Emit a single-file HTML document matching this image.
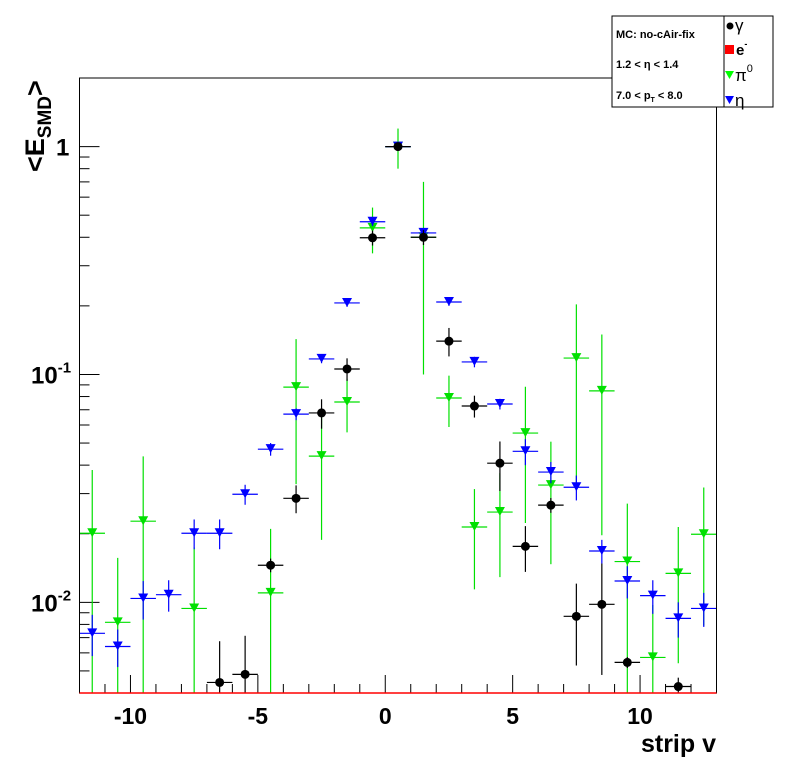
<!DOCTYPE html>
<html><head><meta charset="utf-8">
<style>
body{margin:0;background:#fff;}
svg{display:block;font-family:"Liberation Sans",Arial,sans-serif;}
</style></head>
<body>
<svg id="chart" width="796" height="772" viewBox="0 0 796 772" xmlns="http://www.w3.org/2000/svg">
  <rect x="0" y="0" width="796" height="772" fill="#fff"/>
  <g id="axes"></g>
  <g id="marks"></g>
  <rect x="79.5" y="78" width="637" height="615" fill="none" stroke="#000" stroke-width="1"/>
  <line x1="79.5" y1="693" x2="716.5" y2="693" stroke="#f00" stroke-width="1.5"/>
  <text transform="translate(44,172) rotate(-90)" font-size="27" font-weight="bold">&lt;E<tspan font-size="19" dy="7">SMD</tspan><tspan dy="-7">&gt;</tspan></text>
  <text x="716" y="752" text-anchor="end" font-size="25" font-weight="bold">strip v</text>
  <g>
    <rect x="612" y="16" width="161" height="91" fill="#fff" stroke="#000" stroke-width="1"/>
    <line x1="724" y1="16" x2="724" y2="107" stroke="#000"/>
    <text x="616" y="38" font-size="11" font-weight="bold">MC: no-cAir-fix</text>
    <text x="616" y="68" font-size="11" font-weight="bold">1.2 &lt; η &lt; 1.4</text>
    <text x="616" y="99" font-size="11" font-weight="bold">7.0 &lt; p<tspan font-size="7" dy="3">T</tspan><tspan dy="-3"> &lt; 8.0</tspan></text>
    <circle cx="730" cy="26" r="3.5" fill="#000"/>
    <text x="735" y="31" font-size="17">γ</text>
    <rect x="725" y="45" width="9" height="9" fill="#f00"/>
    <text x="736" y="55" font-size="15" font-weight="bold">e<tspan font-size="9" dy="-8">-</tspan></text>
    <polygon points="725,71 734,71 729.5,79" fill="#0f0"/>
    <text x="735" y="81" font-size="17">π<tspan font-size="11" dy="-9">0</tspan></text>
    <polygon points="725,96 734,96 729.5,104" fill="#00f"/>
    <text x="735" y="106" font-size="17">η</text>
  </g>
</svg>
<script>
const binCenters = [-11.5,-10.5,-9.5,-8.5,-7.5,-6.5,-5.5,-4.5,-3.5,-2.5,-1.5,-0.5,0.5,1.5,2.5,3.5,4.5,5.5,6.5,7.5,8.5,9.5,10.5,11.5,12.5];
const gammaVals = [0,0,0,0,0,0.00445,0.00483,0.01455,0.0286,0.0678,0.1057,0.398,1.0,0.40,0.14,0.0727,0.0408,0.0176,0.0267,0.00868,0.0098,0.00545,0,0.00427,0];
const gammaErrs = [0,0,0,0,0,0.0023,0.0023,0.001,0.004,0.01,0.012,0.03,0.03,0.03,0.02,0.008,0.01,0.004,0.002,0.0034,0.005,0.0003,0,0.0004,0];
const pi0Vals = [0.0201,0.00817,0.0227,0,0.0094,0,0,0.011,0.088,0.0438,0.0757,0.44,1.0,0.40,0.0788,0.0214,0.0249,0.0553,0.0327,0.118,0.0847,0.0151,0.00573,0.0134,0.0199];
const pi0Errs = [0.018,0.0075,0.021,0,0.008,0,0,0.01,0.055,0.025,0.02,0.1,0.2,0.3,0.02,0.01,0.012,0.033,0.018,0.085,0.065,0.012,0.004,0.008,0.012];
const etaVals = [0.00731,0.0064,0.0104,0.0108,0.0201,0.0201,0.0298,0.047,0.067,0.117,0.206,0.468,1.0,0.418,0.208,0.1135,0.0742,0.046,0.0373,0.032,0.0168,0.0124,0.0107,0.0085,0.0094];
const etaErrs = [0.0015,0.0012,0.002,0.0017,0.003,0.003,0.003,0.003,0.004,0.005,0.008,0.02,0.03,0.02,0.008,0.006,0.004,0.006,0.004,0.004,0.002,0.002,0.0018,0.0015,0.0016];
const xTickLabels = ["-10","-5","0","5","10"];
const xTickVals = [-10,-5,0,5,10];

const NS="http://www.w3.org/2000/svg";
const X0=79.5,X1=716.5,Y0=693,Y1=78,XMIN=-12,XMAX=13,LMIN=Math.log10(0.004),LMAX=Math.log10(2.0);
function xs(v){return X0+(v-XMIN)/(XMAX-XMIN)*(X1-X0);}
function ys(v){v=Math.max(v,1e-9);return Y0-(Math.log10(v)-LMIN)/(LMAX-LMIN)*(Y0-Y1);}
function mk(t,a,p){const e=document.createElementNS(NS,t);for(const k in a)e.setAttribute(k,a[k]);p.appendChild(e);return e;}
const axes=document.getElementById('axes'),marks=document.getElementById('marks');

for(let v=-12;v<=13;v++){
  const major=v%5===0;
  const l=mk('line',{x1:xs(v),x2:xs(v),y1:Y0,y2:Y0-(major?18:9),stroke:'#000'},axes);
  
  
}
xTickVals.forEach((v,i)=>{
  const t=mk('text',{x:xs(v),y:724,'text-anchor':'middle','font-size':23,'font-weight':'bold'},axes);
  t.textContent=xTickLabels[i];
  
  
});
for(let d=-3;d<=0;d++){
  for(let m=1;m<=9;m++){
    const v=m*Math.pow(10,d);
    if(v<0.004||v>2.0)continue;
    const l=mk('line',{x1:X0,x2:X0+(m===1?20:10),y1:ys(v),y2:ys(v),stroke:'#000'},axes);
    
    
  }
}
[[1,'1',''],[0.1,'10','-1'],[0.01,'10','-2']].forEach(a=>{
  const t=mk('text',{x:a[2]?31:56,y:ys(a[0])+9,'font-size':24,'font-weight':'bold'},axes);
  t.textContent=a[1];
  if(a[2]){const s=mk('tspan',{'font-size':15,dy:-11},t);s.textContent=a[2];}
  
  
});

function series(vals,errs,color,kind,name){
  const g=mk('g',{},marks);
  
  
  vals.forEach((v,i)=>{
    if(!(v>0))return;
    const c=binCenters[i],px=xs(c),py=ys(v);
    const top=ys(v+errs[i]),bot=ys(Math.max(v-errs[i],1e-9));
    const p=mk('g',{},g);
    
    
    mk('line',{x1:xs(c-0.5),x2:xs(c+0.5),y1:py,y2:py,stroke:color,'stroke-width':1.2},p);
    mk('line',{x1:px,x2:px,y1:top,y2:Math.min(bot,Y0),stroke:color,'stroke-width':1.2},p);
    if(kind==='c')mk('circle',{cx:px,cy:py,r:4.5,fill:color},p);
    else mk('polygon',{points:`${px-5},${py-5} ${px+5},${py-5} ${px},${py+4}`,fill:color},p);
  });
}
series(pi0Vals,pi0Errs,'#00e000','t','pi0');
series(etaVals,etaErrs,'#0000ff','t','eta');
series(gammaVals,gammaErrs,'#000','c','gamma');
</script>
</body></html>
